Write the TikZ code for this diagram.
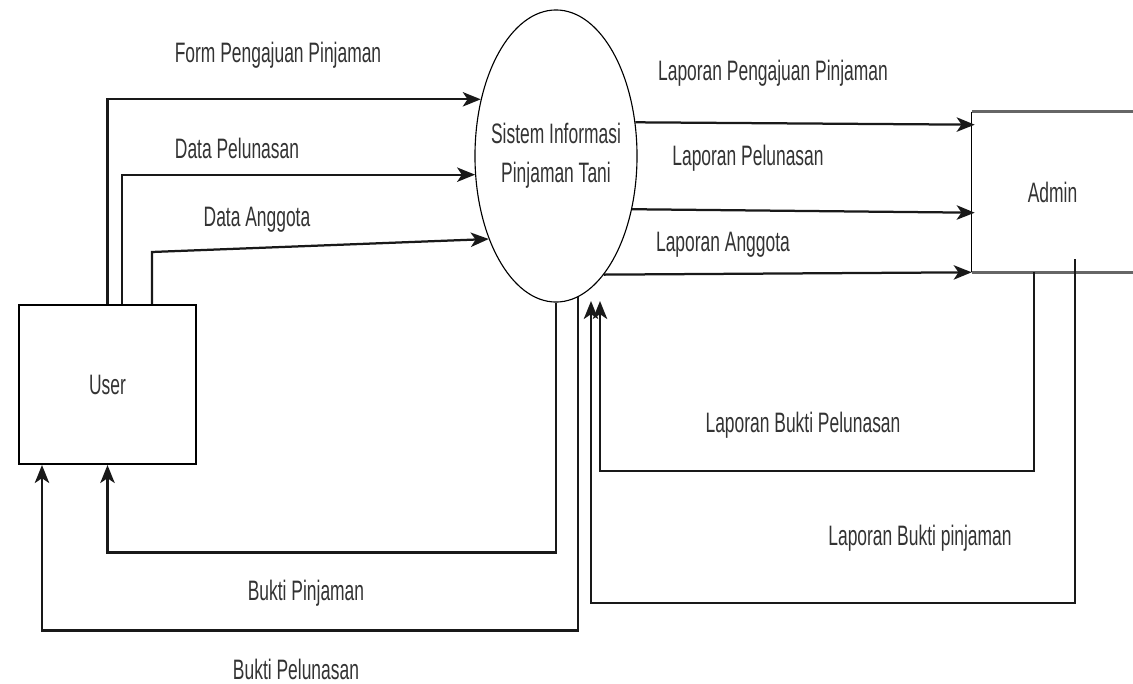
\documentclass[tikz,border=0pt]{standalone}
\usepackage{fontspec}
\setmainfont[FakeStretch=0.62]{Liberation Sans}
\usetikzlibrary{arrows.meta,calc,shapes.geometric}

\begin{document}
\begin{tikzpicture}[x=0.025cm,y=-0.025cm,>={Stealth[length=0.45cm,width=0.36cm,inset=0.12cm]},
  lbl/.style={font=\fontsize{20pt}{28pt}\selectfont,text=black!80},
  flow/.style={->,line width=1.6pt,black!90}]
  \useasboundingbox (0,0) rectangle (1133,684);

  % Process and entities
  \node[ellipse,draw,line width=0.8pt,inner sep=0pt,minimum width=4.05cm,minimum height=7.3cm] (sys) at (556,156) {};
  \node[align=center,lbl] (sysText) at (sys.center) {Sistem Informasi\\Pinjaman Tani};
  \node[draw,line width=1.4pt,minimum width=4.425cm,minimum height=3.975cm,lbl] (user) at (107.5,384.5) {User};
  \node[minimum width=4.025cm,minimum height=4cm,lbl] (admin) at (1052.5,192) {Admin};
  \draw[line width=2pt,black!60] (admin.north east) -- (admin.north west);
  \draw[line width=2pt,black!60] (admin.south west) -- (admin.south east);
  \draw[line width=1pt] (admin.north west) -- (admin.south west);

  \coordinate (in1) at (600,301);
  \coordinate (in2) at (591,301);

  % User to system
  \draw[flow] (user.north) |- (sys.143.2);
  \draw[flow] ($(user.north)+(14.5,0)$) |- (sys.193.3);
  \draw[flow] ($(user.north)+(44.5,0)$) -- ++(0,-52) -- (sys.231.8);

  % System to admin
  \draw[flow] (sys.23.3) -- ($(admin.north west)+(3,13)$);
  \draw[flow] (sys.-35.1) -- ($(admin.north west)+(3,101)$);
  \draw[flow] (sys.-68.5) -- (admin.south west);

  % Back to user and system
  \draw[flow] (sys.south) -- ++(0,250) -| (user.south);
  \draw[flow] (sys.-81.1) -- ++(0,333.5) -| ($(user.south west)+(24,0)$);
  \draw[flow] ($(admin.south west)+(62,0)$) -- ++(0,199) -| (in1);
  \draw[flow] ($(admin.south west)+(103,-13)$) -- ++(0,344) -| (in2);

  % Labels
  \node[lbl] (lForm) at (278,55) {Form Pengajuan Pinjaman};
  \node[lbl] (lDataPel) at (237,148) {Data Pelunasan};
  \node[lbl] (lDataAng) at (257,220) {Data Anggota};
  \node[lbl] (lLapPeng) at (773,73) {Laporan Pengajuan Pinjaman};
  \node[lbl] (lLapPel) at (748,158) {Laporan Pelunasan};
  \node[lbl] (lLapAng) at (723,245) {Laporan Anggota};
  \node[lbl] (lBuktiLapPel) at (803,425) {Laporan Bukti Pelunasan};
  \node[lbl] (lBuktiLapPin) at (920,538) {Laporan Bukti pinjaman};
  \node[lbl] (lBuktiPin) at (306,593) {Bukti Pinjaman};
  \node[lbl] (lBuktiPel) at (296,669) {Bukti Pelunasan};
\end{tikzpicture}
\end{document}
